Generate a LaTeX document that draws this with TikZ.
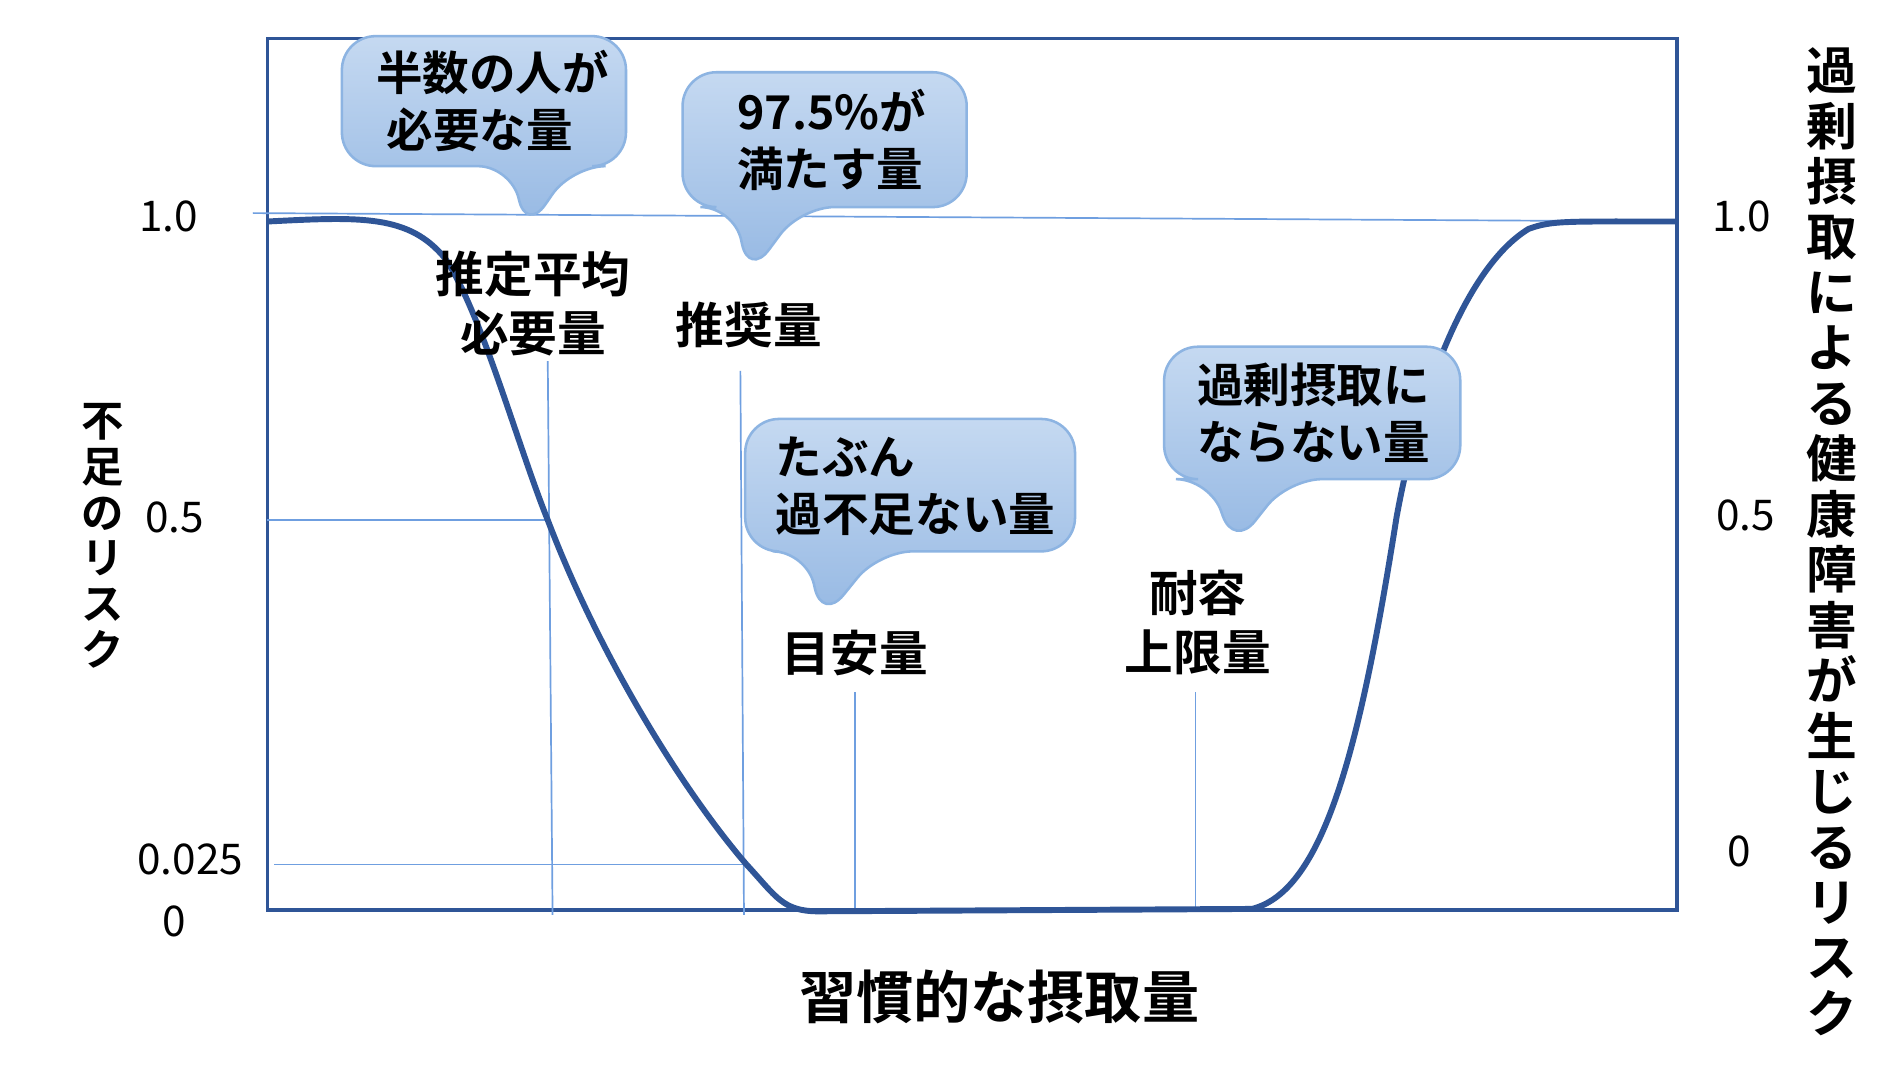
\documentclass[tikz,border=0pt]{standalone}
\usepackage{fontspec}
\setmainfont{Noto Sans CJK JP}[BoldFont={* Bold}]
\definecolor{cv}{HTML}{2F5597}
\definecolor{gl}{HTML}{6F9FE0}
\definecolor{ctop}{HTML}{C5D9F1}
\definecolor{cbot}{HTML}{95B8E3}
\definecolor{cbd}{HTML}{8DB4E2}
\begin{document}
\begin{tikzpicture}[x=0.01cm,y=-0.01cm,
  thin line/.style={draw=gl,line width=0.4pt},
  callout/.style={top color=ctop,bottom color=cbot,draw=cbd,line width=0.6pt,rounded corners=8},
  ctext/.style={font=\bfseries\fontsize{11}{13.5}\selectfont,align=left,anchor=west},
  lbl/.style={font=\bfseries\fontsize{11.5}{14}\selectfont,align=center},
  num/.style={font=\fontsize{10}{12}\selectfont}]
\useasboundingbox (0,0) rectangle (1560,896);
\fill[white] (0,0) rectangle (1560,896);
% frame
\draw[draw=cv,line width=0.8pt] (222,32) rectangle (1393,756);
% guide lines
\draw[thin line] (210,177) -- (1393,184);
\draw[thin line] (222,432) -- (455,432);
\draw[thin line] (228,718) -- (617,718);
\draw[thin line] (455,300) -- (459,760);
\draw[thin line] (615,308) -- (618,760);
\draw[thin line] (710,575) -- (710,756);
\draw[thin line] (993,575) -- (993,756);
% curve
\draw[draw=cv,line width=1.4pt,line join=round]
 (222,184) .. controls (300,180) and (340,178) .. (370,215)
 .. controls (400,260) and (430,370) .. (455,432)
 .. controls (500,550) and (570,660) .. (620,718)
 .. controls (645,745) and (650,757) .. (680,757)
 -- (1040,755)
 .. controls (1100,740) and (1130,620) .. (1160,430)
 .. controls (1180,320) and (1220,220) .. (1270,190)
 .. controls (1290,183) and (1300,184) .. (1393,184);
% callouts
\draw[callout] (284,30) -- (520,30) -- (520,138) -- (475,138) -- (437,193) -- (425,138) -- (284,138) -- cycle;
\node[ctext] (c1) at (300,84) {半数の人が\\\ 必要な量};
\draw[callout] (567,60) -- (803,60) -- (803,172) -- (665,172) -- (622,230) -- (610,172) -- (567,172) -- cycle;
\node[ctext] (c2) at (600,116) {97.5\%が\\満たす量};
\draw[callout] (619,348) -- (893,348) -- (893,458) -- (730,458) -- (683,516) -- (670,458) -- (619,458) -- cycle;
\node[ctext] (c3) at (632,404) {たぶん\\過不足ない量};
\draw[callout] (967,288) -- (1213,288) -- (1213,398) -- (1070,398) -- (1025,455) -- (1005,398) -- (967,398) -- cycle;
\node[ctext] (c4) at (982,343) {過剰摂取に\\ならない量};
% labels
\node[lbl] (l1) at (443,252) {推定平均\\必要量};
\node[lbl] (l2) at (622,270) {推奨量};
\node[lbl] (l3) at (710,542) {目安量};
\node[lbl] (l4) at (995,517) {耐容\\上限量};
% axis numbers
\node[num] (n1) at (140,180) {1.0};
\node[num] (n2) at (145,430) {0.5};
\node[num] (n3) at (158,714) {0.025};
\node[num] (n4) at (145,765) {0};
\node[num] (m1) at (1447,180) {1.0};
\node[num] (m2) at (1450,428) {0.5};
\node[num] (m3) at (1445,707) {0};
% axis titles
\node[font=\bfseries\fontsize{10}{10.8}\selectfont,align=center] (ly) at (85,445) {不\\足\\の\\リ\\ス\\ク};
\node[font=\bfseries\fontsize{12}{13.1}\selectfont,align=center] (ry) at (1522,450) {過\\剰\\摂\\取\\に\\よ\\る\\健\\康\\障\\害\\が\\生\\じ\\る\\リ\\ス\\ク};
\node[font=\bfseries\fontsize{13.5}{16}\selectfont] (lx) at (830,828) {習慣的な摂取量};
\end{tikzpicture}
\end{document}
